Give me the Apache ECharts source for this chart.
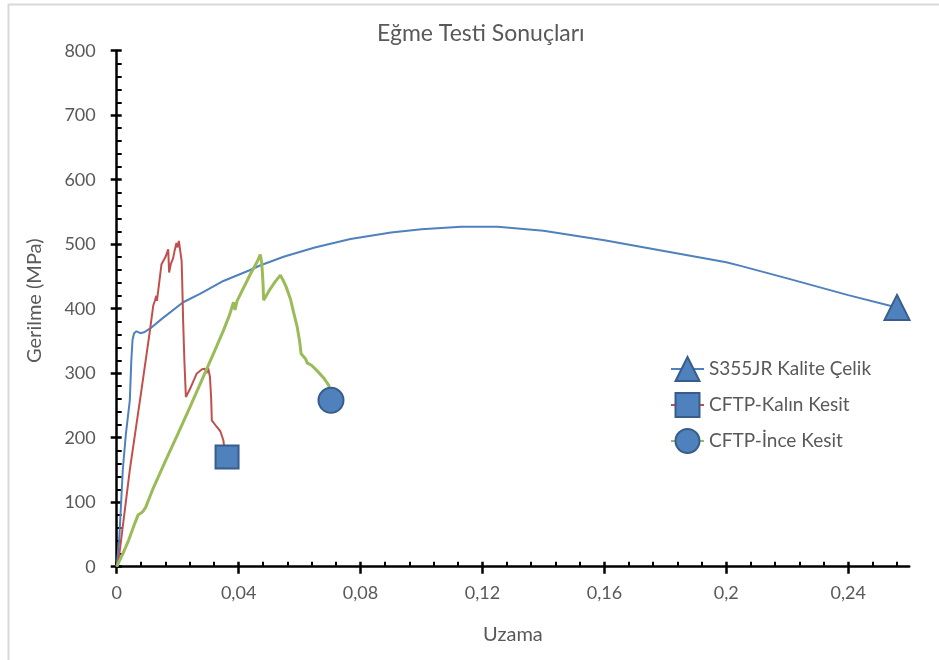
<!DOCTYPE html>
<html><head><meta charset="utf-8">
<script src="https://cdn.jsdelivr.net/npm/echarts@6/dist/echarts.min.js"></script>
<style>html,body{margin:0;padding:0;background:#fff}#c{width:939px;height:660px}</style>
</head><body><div id="c"></div>
<script>
const titleText = 'Eğme Testi Sonuçları';
const xName = 'Uzama';
const yName = 'Gerilme (MPa)';
const seriesNames = ['S355JR Kalite Çelik', 'CFTP-Kalın Kesit', 'CFTP-İnce Kesit'];
const xTicks = [0, 0.04, 0.08, 0.12, 0.16, 0.2, 0.24];

const steel = [[0,0],[0.0008,40],[0.002,150],[0.003,205],[0.0043,258],[0.0048,320],[0.0052,352],[0.0057,362],[0.0065,365],[0.0078,362],[0.0092,364],[0.0109,369],[0.015,385],[0.0218,410],[0.0273,423],[0.035,443],[0.0438,460],[0.047,467],[0.055,481],[0.065,495],[0.0767,508],[0.09,518],[0.1,523],[0.113,527],[0.125,527],[0.14,521],[0.16,506],[0.18,489],[0.2,472],[0.205,466],[0.22,447],[0.24,421],[0.256,402]];

const thick = [[0,0],[0.0005,5],[0.0043,150],[0.008,270],[0.0109,366],[0.012,405],[0.0125,412],[0.013,420],[0.0132,412],[0.0147,469],[0.016,480],[0.0169,492],[0.0172,456],[0.0178,470],[0.0185,478],[0.019,490],[0.0196,502],[0.02,495],[0.0204,505],[0.0207,502],[0.0213,474],[0.0215,440],[0.0218,381],[0.0222,320],[0.0227,263],[0.024,275],[0.0262,299],[0.028,306],[0.029,307],[0.0295,300],[0.03,308],[0.0306,294],[0.031,260],[0.0312,227],[0.0328,217],[0.034,210],[0.035,196],[0.0352,188],[0.0362,170]];

const thin = [[0,0],[0.002,20],[0.004,42],[0.006,68],[0.007,80],[0.0085,85],[0.0095,92],[0.012,122],[0.016,164],[0.02,205],[0.024,247],[0.028,290],[0.032,333],[0.035,366],[0.037,390],[0.0383,410],[0.0388,398],[0.0395,412],[0.042,436],[0.044,455],[0.046,472],[0.0471,484],[0.0476,470],[0.048,440],[0.0482,413],[0.05,428],[0.052,442],[0.0537,452],[0.0545,445],[0.0555,435],[0.057,415],[0.058,395],[0.0592,372],[0.06,350],[0.0605,330],[0.062,322],[0.0625,316],[0.064,312],[0.0657,304],[0.068,292],[0.0696,281],[0.0703,258]];

const FONT = 'Lato';
const GRAY = '#595959';
const fmtX = v => { const s = String(+(+v).toFixed(4)); return s.replace('.', ','); };

function mk(name, data, color, width, symbol, size) {
  const last = data.length - 1;
  return {
    name, type: 'line', data, symbol, showSymbol: true,
    symbolSize: (val, p) => p.dataIndex === last ? size : 0,
    lineStyle: { color, width },
    itemStyle: { color: '#4F81BD', borderColor: '#385D8A', borderWidth: 2 },
    emphasis: { disabled: true }, animation: false, z: 3
  };
}

const chart = echarts.init(document.getElementById('c'));
chart.setOption({
  backgroundColor: '#fff',
  animation: false,
  title: { text: titleText, left: 372, top: 17, textStyle: { fontFamily: FONT, fontSize: 23, fontWeight: 'normal', color: GRAY } },
  grid: { left: 116.7, top: 50.7, width: 792.5, height: 516, containLabel: false },
  legend: {
    orient: 'vertical', left: 670, top: 356, itemWidth: 33, itemHeight: 30, itemGap: 10, padding: 0,
    textStyle: { fontFamily: FONT, fontSize: 19, color: GRAY },
    data: seriesNames
  },
  xAxis: [{
    type: 'value', min: 0, max: 0.26, interval: 0.04,
    name: xName, nameLocation: 'middle', nameGap: 58,
    nameTextStyle: { fontFamily: FONT, fontSize: 20, color: GRAY },
    axisLine: { show: true, onZero: false, lineStyle: { color: '#000', width: 2.5 } },
    axisTick: { show: true, inside: true, length: 5, customValues: xTicks, lineStyle: { color: '#000', width: 2.5 } },
    minorTick: { show: true, splitNumber: 5, length: 5, lineStyle: { color: '#000', width: 2 } },
    axisLabel: { customValues: xTicks, formatter: fmtX, margin: 17, fontFamily: FONT, fontSize: 18, color: GRAY },
    splitLine: { show: false }
  }, {
    type: 'value', min: 0, max: 0.26, interval: 0.04, position: 'bottom',
    axisLine: { show: false, onZero: false },
    axisTick: { show: true, inside: false, length: 7, customValues: xTicks, lineStyle: { color: '#000', width: 2.5 } },
    axisLabel: { show: false }, splitLine: { show: false }
  }],
  yAxis: [{
    type: 'value', min: 0, max: 800, interval: 100,
    name: yName, nameLocation: 'middle', nameGap: 72, nameRotate: 90,
    nameTextStyle: { fontFamily: FONT, fontSize: 20, color: GRAY, padding: [0, 0, 0, 16] },
    axisLine: { show: true, onZero: false, lineStyle: { color: '#000', width: 2.5 } },
    axisTick: { show: true, inside: true, length: 5, lineStyle: { color: '#000', width: 2.5 } },
    minorTick: { show: true, splitNumber: 5, length: 5, lineStyle: { color: '#000', width: 2 } },
    axisLabel: { margin: 21, fontFamily: FONT, fontSize: 18, color: GRAY },
    splitLine: { show: false }
  }, {
    type: 'value', min: 0, max: 800, interval: 100, position: 'left',
    axisLine: { show: false, onZero: false },
    axisTick: { show: true, inside: false, length: 6, lineStyle: { color: '#000', width: 2.5 } },
    axisLabel: { show: false }, splitLine: { show: false }
  }],
  graphic: [
    { type: 'line', shape: { x1: 8, y1: 4.5, x2: 939, y2: 4.5 }, style: { stroke: '#d9d9d9', lineWidth: 2 }, silent: true },
    { type: 'line', shape: { x1: 8.5, y1: 4, x2: 8.5, y2: 660 }, style: { stroke: '#d9d9d9', lineWidth: 2 }, silent: true }
  ],
  series: [
    mk(seriesNames[0], steel, '#4F81BD', 2, 'triangle', 25),
    mk(seriesNames[1], thick, '#C0504D', 2, 'rect', 23),
    mk(seriesNames[2], thin, '#9BBB59', 3, 'circle', 25)
  ]
});
</script></body></html>
